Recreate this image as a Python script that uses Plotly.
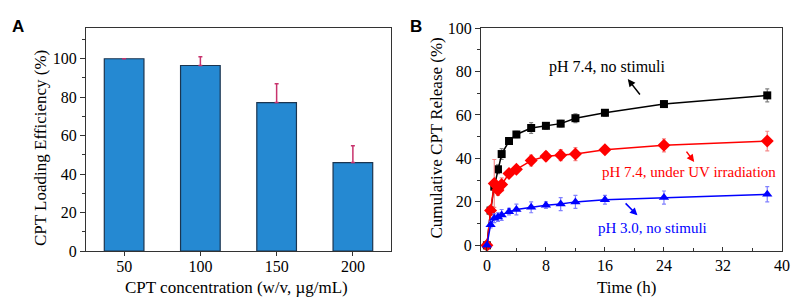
import plotly.graph_objects as go

# ---- Panel A data ----
conc_labels = ["50", "100", "150", "200"]
loading_eff = [100.0, 96.5, 77.2, 46.0]
loading_err = [0.0, 4.5, 9.8, 8.7]

# ---- Panel B data ----
time_h = [0, 0.5, 1, 1.5, 2, 3, 4, 6, 8, 10, 12, 16, 24, 38]
rel_ph74 = [0, 16, 27, 35, 42, 48, 51, 54, 55, 56, 58.5, 61, 65, 69]
err_ph74 = [0.5, 2, 2.5, 2, 2.5, 1.5, 1.5, 2.5, 1.5, 1.5, 2, 1.5, 1.5, 3]
rel_uv = [0, 16, 28.5, 25.5, 28, 33, 35, 39, 41, 41.5, 42, 44, 46, 48]
err_uv = [0.5, 2, 11, 2.5, 3, 1.5, 1.5, 2.5, 2, 2.5, 3, 1.5, 3, 4.5]
rel_ph30 = [0, 9.5, 12.5, 13, 14, 15.5, 16.5, 17.5, 18.5, 19, 20, 21, 22, 23.5]
err_ph30 = [0.5, 1.5, 2, 2, 2.5, 1.5, 2.5, 2.5, 1.5, 3, 3, 2, 3, 3.5]

FONT = "Liberation Serif"
AXC = "#333333"
TICKFONT = dict(family=FONT, size=16, color="black")
TITLEFONT = dict(family=FONT, size=17, color="black")
W, H = 804, 305

fig = go.Figure()

fig.add_trace(go.Bar(
    x=conc_labels, y=loading_eff,
    width=0.52,
    marker=dict(color="#2589d2", line=dict(color="#1b3550", width=1.2)),
    error_y=dict(type="data", symmetric=False, array=loading_err,
                 arrayminus=[0, 0, 0, 0], color="#c8336d",
                 thickness=1.5, width=2),
    xaxis="x", yaxis="y", showlegend=False,
))

series = [
    (rel_ph74, err_ph74, "#000000", "#808080", "square", 8),
    (rel_uv, err_uv, "#ff0000", "#f58a8a", "diamond", 10),
    (rel_ph30, err_ph30, "#0000ff", "#8080ff", "triangle-up", 9),
]
for vals, errs, col, ecol, sym, sz in series:
    fig.add_trace(go.Scatter(
        x=time_h, y=vals, mode="lines+markers",
        line=dict(color=col, width=1.5),
        marker=dict(symbol=sym, size=sz, color=col),
        error_y=dict(type="data", array=errs, color=ecol, thickness=1.2, width=2),
        xaxis="x2", yaxis="y2", showlegend=False,
    ))

ydom = [1 - 251 / H, 1 - 28 / H]
common = dict(showline=True, linecolor=AXC, linewidth=1.2, mirror=True,
              tickcolor=AXC, tickwidth=1.2, showgrid=False,
              zeroline=False, automargin=False, tickfont=TICKFONT)

fig.update_layout(
    width=W, height=H,
    margin=dict(l=0, r=0, t=0, b=0),
    paper_bgcolor="white", plot_bgcolor="white",
    font=dict(family=FONT, color="black", size=17),
    xaxis=dict(domain=[86 / W, 391 / W], range=[-0.5, 3.5], ticks="outside", ticklen=4,
               ticklabelstandoff=-3, anchor="y", **common),
    yaxis=dict(domain=ydom, range=[0, 116], ticks="outside", dtick=20, ticklen=5,
               minor=dict(dtick=10, ticks="outside", ticklen=3, tickcolor=AXC),
               anchor="x", **common),
    xaxis2=dict(domain=[481 / W, 782 / W], range=[-0.8, 40], ticks="inside", dtick=8, ticklen=4,
                minor=dict(dtick=4, ticks="inside", ticklen=3, tickcolor=AXC),
                anchor="y2", **common),
    yaxis2=dict(domain=ydom, range=[-2.6, 100], ticks="outside", dtick=20, ticklen=5,
                minor=dict(dtick=10, ticks="outside", ticklen=3, tickcolor=AXC),
                anchor="x2", **common),
)

def paper_text(text, px, py, font, angle=0):
    fig.add_annotation(text=text, xref="paper", yref="paper", x=px / W, y=1 - py / H,
                       xanchor="center", yanchor="middle", showarrow=False,
                       textangle=angle, font=font)

# axis titles
paper_text("CPT concentration (w/v, µg/mL)", 236.5, 287, TITLEFONT)
paper_text("CPT Loading Efficiency (%)", 40, 148, TITLEFONT, -90)
paper_text("Time (h)", 626.7, 287, TITLEFONT)
paper_text("Cumulative CPT Release (%)", 436.5, 138, TITLEFONT, -90)

# panel letters
LETTERFONT = dict(family="Liberation Sans", size=17, color="black")
paper_text("<b>A</b>", 17.5, 26, LETTERFONT)
paper_text("<b>B</b>", 416, 26, LETTERFONT)

# curve labels with arrows
labels = [
    ("pH 7.4, no stimuli", 16.3, 82, "black", 16, 19.1, 76.5, 20.9, 68.7),
    ("pH 7.4, under UV irradiation", 27.4, 33.6, "#ff0000", 15, 28.1, 38.4, 26.9, 43.8),
    ("pH 3.0, no stimuli", 22.5, 7.8, "#0000ff", 15, 20.4, 13.8, 18.6, 20.0),
]
for txt, tx, ty, col, fs, hx, hy, sx, sy in labels:
    fig.add_annotation(text=txt, x=tx, y=ty, xref="x2", yref="y2", showarrow=False,
                       font=dict(family=FONT, size=fs, color=col))
    fig.add_annotation(text="", x=hx, y=hy, ax=sx, ay=sy, xref="x2", yref="y2",
                       axref="x2", ayref="y2", showarrow=True, arrowhead=2,
                       arrowsize=1, arrowwidth=1.5, arrowcolor=col)

fig.write_html("out.html", config={"displayModeBar": False},
               post_script="document.body.style.margin='0';document.body.style.padding='0';")
